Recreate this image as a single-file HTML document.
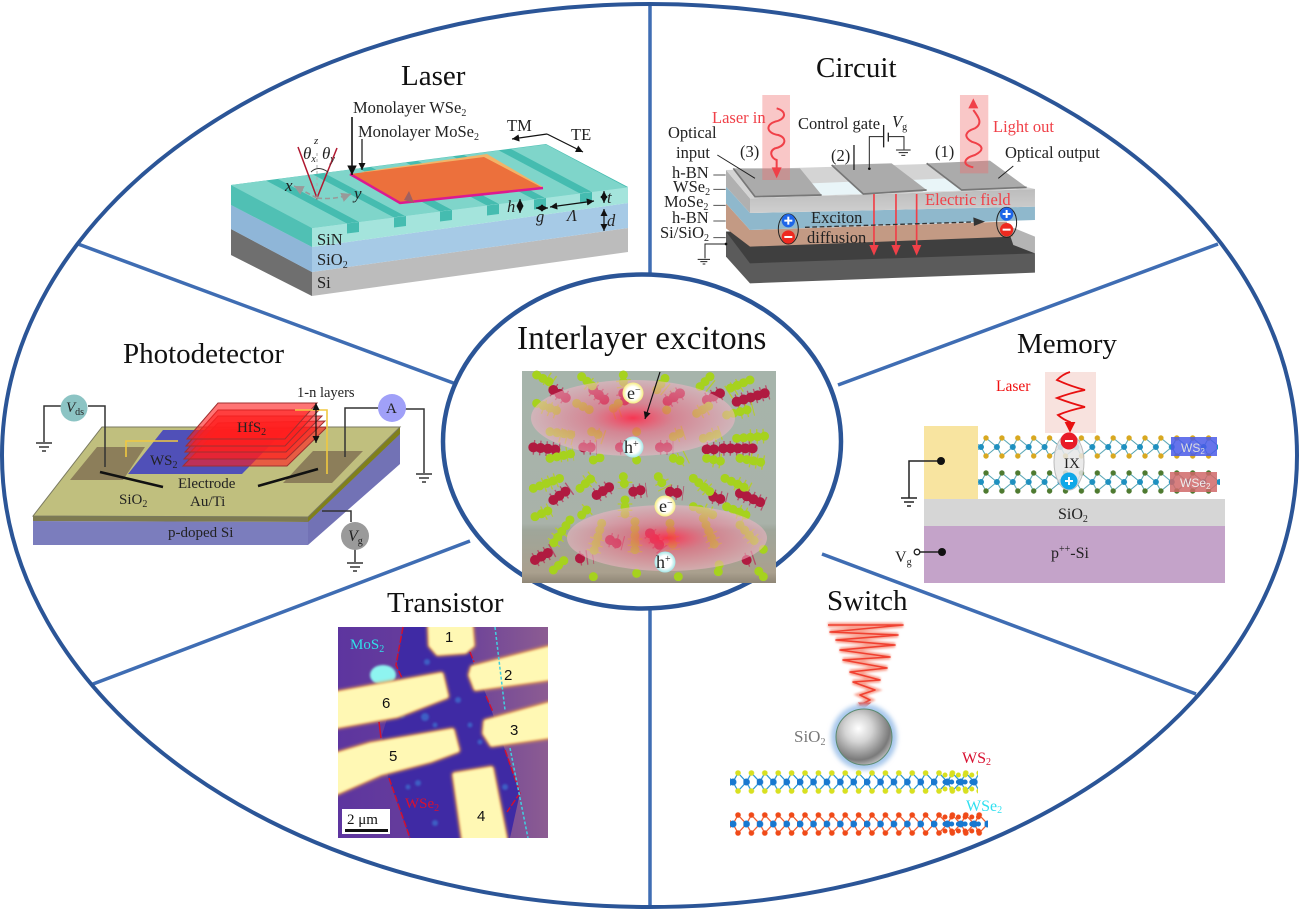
<!DOCTYPE html>
<html><head><meta charset="utf-8"><style>
html,body{margin:0;padding:0;background:#fff}
svg{display:block}
text{font-family:"Liberation Serif",serif;fill:#222}
.t{font-size:29px;fill:#111}
.m{font-size:16.5px}
.s{font-size:15px}
.i{font-style:italic}
.sub{font-size:10px}
.n{font-family:"Liberation Sans",sans-serif;font-size:15px;fill:#111}
.gb{fill:none;stroke:#a6d21e;stroke-width:27;stroke-linecap:round;stroke-dasharray:0 21}
.rb{fill:none;stroke:#b01a40;stroke-width:30;stroke-linecap:round;stroke-dasharray:0 22}
.h{fill:none;stroke:#b83058;stroke-width:44;stroke-dasharray:4 15;stroke-opacity:.75}
.hg{fill:none;stroke:#b4cc30;stroke-width:44;stroke-dasharray:4 15}
</style></head><body>
<svg width="1299" height="911" viewBox="0 0 1299 911" xmlns="http://www.w3.org/2000/svg">
<defs>
<marker id="ak" markerWidth="7" markerHeight="7" refX="6" refY="3" orient="auto-start-reverse"><path d="M0,0L6,3L0,6z" fill="#111"/></marker>
<marker id="ar" markerWidth="6" markerHeight="6" refX="5" refY="3" orient="auto"><path d="M0,0L6,3L0,6z" fill="#e81010"/></marker>
<marker id="ag" markerWidth="7" markerHeight="7" refX="6" refY="3" orient="auto"><path d="M0,0L6,3L0,6z" fill="#999"/></marker>
<filter id="b1" x="-10%" y="-10%" width="120%" height="120%"><feGaussianBlur stdDeviation="1"/></filter>
<filter id="b15" x="-15%" y="-15%" width="130%" height="130%"><feGaussianBlur stdDeviation="1.5"/></filter>
<filter id="b2" x="-20%" y="-20%" width="140%" height="140%"><feGaussianBlur stdDeviation="2.5"/></filter>
<polygon id="rt" points="231,185 266,180.5 347,223.5 312,228" fill="#7fd5ca"/>
<g id="r">
<polygon points="347,223.5 359,222 359,232 347,233.5" fill="#45bcb0"/>
<use href="#rt"/>
</g>
<g id="gnd" stroke="#333" stroke-width="1.5" fill="none"><path d="M-8,0H8M-5,4H5M-2,8H2"/></g>
<radialGradient id="glow1" cx=".5" cy=".5" r=".5"><stop offset="0" stop-color="#ff2848" stop-opacity=".9"/><stop offset=".4" stop-color="#f86080" stop-opacity=".55"/><stop offset="1" stop-color="#f2b6c6" stop-opacity=".55"/></radialGradient>
<radialGradient id="ball" cx=".4" cy=".35" r=".7"><stop offset="0" stop-color="#fff"/><stop offset=".35" stop-color="#d4d4d4"/><stop offset=".8" stop-color="#7a7a7a"/><stop offset="1" stop-color="#c8c8c8"/></radialGradient>
<radialGradient id="wy" cx=".5" cy=".5" r=".55"><stop offset=".55" stop-color="#fff"/><stop offset="1" stop-color="#f4e860"/></radialGradient>
<radialGradient id="wb" cx=".5" cy=".5" r=".55"><stop offset=".55" stop-color="#fff"/><stop offset="1" stop-color="#8ce0e0"/></radialGradient>
<linearGradient id="img" x1="0" y1="0" x2="0" y2="1"><stop offset="0" stop-color="#a6b4ab"/><stop offset=".72" stop-color="#a9b2a9"/><stop offset=".75" stop-color="#9fa69a"/><stop offset=".95" stop-color="#aaa08e"/><stop offset="1" stop-color="#8f8676"/></linearGradient>
<linearGradient id="tbg" x1="0" y1="0" x2="1" y2="0"><stop offset="0" stop-color="#5d359f"/><stop offset=".6" stop-color="#6c4299"/><stop offset="1" stop-color="#8c5c92"/></linearGradient>
<linearGradient id="gf" x1="0" y1="0" x2="0" y2="1"><stop offset="0" stop-color="#bcbcbc"/><stop offset="1" stop-color="#cfcfcf"/></linearGradient>
<pattern id="pw1" patternUnits="userSpaceOnUse" x="978" y="434" width="15.9" height="26">
<path d="M3,13L8,4L18.9,13L8,22L3,13M-7.9,4L3,13L-7.9,22" stroke="#4da0b0" stroke-width="1" fill="none"/>
<circle cx="3" cy="13" r="3" fill="#1e90c0"/><circle cx="8" cy="4" r="2.7" fill="#d8a820"/><circle cx="8" cy="22" r="2.7" fill="#d8a820"/>
</pattern>
<pattern id="pw2" patternUnits="userSpaceOnUse" x="978" y="469" width="15.9" height="26">
<path d="M3,13L8,4L18.9,13L8,22L3,13M-7.9,4L3,13L-7.9,22" stroke="#4da0b0" stroke-width="1" fill="none"/>
<circle cx="3" cy="13" r="3" fill="#1e90c0"/><circle cx="8" cy="4" r="2.7" fill="#4e7a30"/><circle cx="8" cy="22" r="2.7" fill="#4e7a30"/>
</pattern>
<pattern id="ps1" patternUnits="userSpaceOnUse" x="730" y="770" width="13.4" height="24">
<path d="M3,12L8,3L16.4,12L8,21L3,12M-5.4,3L3,12L-5.4,21" stroke="#2090d0" stroke-width="1.2" fill="none"/>
<circle cx="8" cy="3" r="2.8" fill="#d8e020"/><circle cx="8" cy="21" r="2.8" fill="#d8e020"/><circle cx="3" cy="12" r="3.5" fill="#1878d0"/>
</pattern>
<pattern id="ps2" patternUnits="userSpaceOnUse" x="730" y="812" width="13.4" height="24">
<path d="M3,12L8,3L16.4,12L8,21L3,12M-5.4,3L3,12L-5.4,21" stroke="#f05020" stroke-width="1.2" fill="none"/>
<circle cx="8" cy="3" r="2.8" fill="#f04a18"/><circle cx="8" cy="21" r="2.8" fill="#f04a18"/><circle cx="3" cy="12" r="3.5" fill="#1878d0"/>
</pattern>
</defs>

<rect width="1299" height="911" fill="#fff"/>

<!-- Frame -->
<g stroke="#3f6db3" stroke-width="3.5" fill="none">
<path d="M650,3V275M650,608V908"/>
<path d="M78,244L456,384M93,684L470,541M1218,244L838,385M1196,694L822,554"/>
</g>
<ellipse cx="649.5" cy="455.5" rx="647.5" ry="451.5" fill="none" stroke="#2b5597" stroke-width="4"/>
<ellipse cx="642" cy="441.5" rx="199" ry="167" fill="#fff" stroke="#2b5597" stroke-width="4.5"/>

<!-- Titles -->
<text class="t" x="401" y="85">Laser</text>
<text class="t" x="816" y="77">Circuit</text>
<text class="t" x="123" y="363">Photodetector</text>
<text class="t" x="1017" y="353">Memory</text>
<text class="t" x="387" y="612">Transistor</text>
<text class="t" x="827" y="610">Switch</text>
<text x="517" y="349" style="font-size:33.4px;fill:#111">Interlayer excitons</text>

<!-- LASER -->
<polygon points="231,229 312,272 628,228 628,252 312,296 231,255" fill="#bcbcbc"/>
<polygon points="231,229 312,272 312,296 231,255" fill="#6f6f6f"/>
<polygon points="231,205 312,247 628,203 628,228 312,272 231,229" fill="#a6cae6"/>
<polygon points="231,205 312,247 312,272 231,229" fill="#8fb6d8"/>
<polygon points="231,185 312,228 312,247 231,205" fill="#50c0b4"/>
<polygon points="312,228 628,187 628,203 312,247" fill="#a4e4dc"/>
<polygon points="231,185 546,144 628,187 312,228" fill="#45bcb0"/>
<use href="#r"/>
<use href="#r" transform="translate(47,-6)"/>
<use href="#r" transform="translate(93,-12)"/>
<use href="#r" transform="translate(140,-18)"/>
<use href="#r" transform="translate(187,-24)"/>
<use href="#r" transform="translate(233,-30)"/>
<use href="#rt" transform="translate(280,-36)"/>
<polygon points="361,172 487,154 543,187 490,190" fill="#f2b468"/>
<polygon points="350,174 484,157 543,188 400,203" fill="#ec703c"/>
<path d="M350,174L400,203L543,188" fill="none" stroke="#dc1a90" stroke-width="2.5"/>
<polygon points="404,200 409,191 414,203" fill="#a06060"/>
<g stroke="#111" fill="none" stroke-width="1.2">
<path d="M352,117V175" stroke-width="1.6" marker-end="url(#ak)"/>
<path d="M362,139V170" marker-end="url(#ak)"/>
<path d="M547,134L512,139" marker-end="url(#ak)"/>
<path d="M547,134L583,152" marker-end="url(#ak)"/>
<path d="M520,199V213" marker-start="url(#ak)" marker-end="url(#ak)"/>
<path d="M604,191V203" marker-start="url(#ak)" marker-end="url(#ak)"/>
<path d="M604,209V231" marker-start="url(#ak)" marker-end="url(#ak)"/>
<path d="M536,208L548,208" marker-start="url(#ak)" marker-end="url(#ak)"/>
<path d="M550,207L594,201" marker-start="url(#ak)" marker-end="url(#ak)"/>
</g>
<path d="M298,147L317,198L337,148" fill="none" stroke="#b01830" stroke-width="1.5"/>
<path d="M311,172Q318,165 328,172" fill="none" stroke="#333" stroke-width="1"/>
<path d="M317,198L294,186" stroke="#999" stroke-width="1.6" stroke-dasharray="5 3" fill="none" marker-end="url(#ag)"/>
<path d="M317,198Q335,200 351,194" stroke="#999" stroke-width="1.6" stroke-dasharray="5 3" fill="none" marker-end="url(#ag)"/>
<path d="M317,198V152" stroke="#aaa" stroke-width="1" stroke-dasharray="3 3"/>
<text class="m" x="353" y="113">Monolayer WSe<tspan class="sub" dy="3">2</tspan></text>
<text class="m" x="358" y="137">Monolayer MoSe<tspan class="sub" dy="3">2</tspan></text>
<text class="m" x="507" y="131">TM</text><text class="m" x="571" y="140">TE</text>
<text class="m" x="317" y="245">SiN</text>
<text class="m" x="317" y="265">SiO<tspan class="sub" dy="3">2</tspan></text>
<text class="m" x="317" y="288">Si</text>
<g style="font-style:italic">
<text x="285" y="191" style="font-size:17px;font-style:italic">x</text><text x="354" y="199" style="font-size:17px;font-style:italic">y</text>
<text x="303" y="159" style="font-size:17px;font-style:italic">θ<tspan class="sub" dy="3">x</tspan></text>
<text x="322" y="159" style="font-size:17px;font-style:italic">θ<tspan class="sub" dy="3">y</tspan></text>
<text x="314" y="144" style="font-size:11px;font-style:italic">z</text>
<text x="507" y="212" class="m i">h</text><text x="536" y="222" class="m i">g</text><text x="567" y="221" class="m i">Λ</text>
<text x="607" y="203" class="m i">t</text><text x="607" y="226" class="m i">d</text>
</g>

<!-- CIRCUIT -->
<g transform="translate(660,90) scale(.3333)">
<polygon points="198,425 1040,400 1125,490 1125,548 270,580 198,500" fill="#5b5b5b"/>
<polygon points="198,425 1045,420 1125,490 270,520" fill="#3f3f3f"/>
<polygon points="1040,405 1125,440 1125,490 1060,465" fill="#b4b4b4"/>
<polygon points="198,340 270,420 1040,395 1060,440 270,470 198,415" fill="#c39a84"/>
<polygon points="198,290 270,369 1125,350 1125,390 270,420 198,340" fill="#8fb8cc"/>
<polygon points="198,240 270,325 270,369 198,290" fill="#b0b0b0"/>
<polygon points="270,325 1125,297 1125,350 270,369" fill="url(#gf)"/>
<polygon points="198,240 800,222 1125,297 270,325" fill="#d4d4d4"/>
<polygon points="450,280 580,275 615,312 480,316" fill="#e9f5f8"/>
<polygon points="750,270 860,265 905,302 790,306" fill="#e9f5f8"/>
<g>
<polygon points="220,235 420,235 485,315 285,320" fill="#ababab"/>
<polygon points="515,225 695,220 800,300 610,312" fill="#ababab"/>
<polygon points="800,220 990,212 1100,292 905,300" fill="#ababab"/>
<path d="M220,235L285,320L485,315M515,225L610,312L800,300M800,220L905,300L1100,292" fill="none" stroke="#777" stroke-width="5"/>
</g>
<rect x="307" y="15" width="83" height="255" fill="#f06c6c" fill-opacity=".38"/>
<rect x="900" y="15" width="85" height="235" fill="#f06c6c" fill-opacity=".38"/>
<path d="M350,55C385,65 375,90 345,95C315,105 320,130 355,135C385,145 375,170 345,175C325,185 335,205 350,210V240" fill="none" stroke="#f04048" stroke-width="6"/>
<polygon points="335,232 365,232 350,265" fill="#f04048"/>
<path d="M940,232C905,225 910,205 945,195C975,180 970,165 935,155C910,140 915,125 945,115C970,100 955,80 940,60" fill="none" stroke="#f04048" stroke-width="6"/>
<polygon points="925,55 955,55 940,25" fill="#f04048"/>
<g stroke="#f04048" stroke-width="5" fill="none">
<path d="M642,312V470M708,312V470M770,312V470"/>
</g>
<polygon points="628,465 656,465 642,497" fill="#f04048"/>
<polygon points="694,465 722,465 708,497" fill="#f04048"/>
<polygon points="756,465 784,465 770,497" fill="#f04048"/>
<path d="M435,412L940,396" stroke="#333" stroke-width="4" stroke-dasharray="14 8" fill="none"/>
<polygon points="940,382 975,395 942,408" fill="#333"/>
<g fill="none" stroke="#222" stroke-width="3">
<ellipse cx="385" cy="417" rx="30" ry="45"/><ellipse cx="1040" cy="397" rx="30" ry="45"/>
<path d="M628,232V140H670M685,140H732V178"/>
<path d="M671,105V172M685,128V155" stroke-width="4"/>
<path d="M582,165V240" stroke-width="4"/>
<path d="M198,462H135V505"/>
<path d="M172,195L285,265M1015,265L1060,228"/>
<path d="M160,255H197M160,298H197M160,346H197M160,393H197M160,443H197" stroke="#555"/>
<path d="M708,180H752M716,188H744M724,196H736"/>
<path d="M113,508H150M121,515H142M128,522H136"/>
</g>
<circle cx="628" cy="236" r="4" fill="#111"/><circle cx="198" cy="462" r="4" fill="#111"/>
<circle cx="385" cy="392" r="20" fill="#1e66e8"/><rect x="373" y="389" width="24" height="6" fill="#fff"/><rect x="382" y="380" width="6" height="24" fill="#fff"/>
<circle cx="385" cy="441" r="20" fill="#ee2a20"/><rect x="373" y="438" width="24" height="6" fill="#fff"/>
<circle cx="1040" cy="372" r="20" fill="#1e66e8"/><rect x="1028" y="369" width="24" height="6" fill="#fff"/><rect x="1037" y="360" width="6" height="24" fill="#fff"/>
<circle cx="1040" cy="419" r="20" fill="#ee2a20"/><rect x="1028" y="416" width="24" height="6" fill="#fff"/>
</g>
<g>
<text x="712" y="123" class="m" style="fill:#f04048">Laser in</text>
<text x="798" y="129" class="m">Control gate</text>
<text x="892" y="127" class="m i">V<tspan class="sub" dy="3" style="font-style:normal">g</tspan></text>
<text x="993" y="132" class="m" style="fill:#f04048">Light out</text>
<text x="668" y="138" class="m">Optical</text>
<text x="676" y="158" class="m">input</text>
<text x="740" y="157" class="m">(3)</text>
<text x="831" y="161" class="m">(2)</text>
<text x="935" y="157" class="m">(1)</text>
<text x="1005" y="158" class="m">Optical output</text>
<text x="672" y="178" class="m">h-BN</text>
<text x="673" y="192" class="m">WSe<tspan class="sub" dy="3">2</tspan></text>
<text x="664" y="207" class="m">MoSe<tspan class="sub" dy="3">2</tspan></text>
<text x="672" y="223" class="m">h-BN</text>
<text x="660" y="238" class="m">Si/SiO<tspan class="sub" dy="3">2</tspan></text>
<text x="925" y="205" class="m" style="fill:#f04048">Electric field</text>
<text x="811" y="223" class="m">Exciton</text>
<text x="807" y="243" class="m">diffusion</text>
</g>

<!-- PHOTODETECTOR -->
<polygon points="33,521 308,522 308,545 33,545" fill="#7b7dbd"/>
<polygon points="308,517 400,427 400,464 308,545" fill="#7272b5"/>
<polygon points="33,516 308,517 308,522 33,521" fill="#7d7a50"/>
<polygon points="308,517 400,427 400,434 308,522" fill="#80801a"/>
<polygon points="33,516 102,427 400,427 308,517" fill="#c0bf7e" stroke="#7a7a60"/>
<polygon points="70,480 97,447 145,447 123,480" fill="#8c7e5a"/>
<polygon points="283,483 313,451 363,451 332,483" fill="#8c7e5a"/>
<polygon points="128,474 163,430 285,430 242,474" fill="#5050b8"/>
<g fill="#ff1e1e" fill-opacity=".62" stroke="#a03030" stroke-width="1">
<polygon points="183,466 218,430 327,427 287,466"/>
<polygon points="184,459 218,423 325,421 286,459"/>
<polygon points="185,452 218,416 322,416 286,452"/>
<polygon points="186,446 218,410 319,410 285,446"/>
<polygon points="187,439 218,403 317,403 285,439"/>
</g>
<path d="M126,457V441H178M295,410H327V474" fill="none" stroke="#f0c840" stroke-width="1.6"/>
<path d="M316,403V443" stroke="#111" stroke-width="1.2" marker-start="url(#ak)" marker-end="url(#ak)"/>
<path d="M100,472L163,487M258,486L318,469" stroke="#111" stroke-width="2.6"/>
<g fill="none" stroke="#333" stroke-width="1.5">
<path d="M61,406H44V442M88,406H105V467"/>
<path d="M378,408H345V457M405,409H424V473"/>
<path d="M322,511H351V522M355,549V562"/>
</g>
<use href="#gnd" x="44" y="443"/><use href="#gnd" x="424" y="474"/><use href="#gnd" x="355" y="563"/>
<circle cx="74" cy="408" r="13.5" fill="#8cc4c4"/>
<circle cx="392" cy="408" r="14" fill="#a0a0f8"/>
<circle cx="355" cy="536" r="14" fill="#9a9a9a"/>
<text x="66" y="412" class="s i">V<tspan class="sub" dy="3" style="font-style:normal">ds</tspan></text>
<text x="386" y="413" class="s">A</text>
<text x="348" y="541" class="s i" style="font-size:16px">V<tspan class="sub" dy="3" style="font-style:normal">g</tspan></text>
<text x="297" y="397" style="font-size:14.5px">1-n layers</text>
<text x="237" y="432" class="s">HfS<tspan class="sub" dy="3">2</tspan></text>
<text x="150" y="465" class="s">WS<tspan class="sub" dy="3">2</tspan></text>
<text x="178" y="488" class="s">Electrode</text>
<text x="190" y="506" class="s">Au/Ti</text>
<text x="119" y="504" class="s">SiO<tspan class="sub" dy="3">2</tspan></text>
<text x="168" y="537" class="s">p-doped Si</text>

<!-- CENTER IMAGE -->
<rect x="522" y="371" width="254" height="212" fill="url(#img)"/>
<g transform="translate(510,360) scale(.3333)">
<path class="h" d="M130,90L170,115M250,90L290,125M340,100L345,125M510,100L470,125M630,100L580,125M680,125L780,95M70,262L150,270M220,262L260,262M330,262L370,262M450,262L490,262M590,268L630,268M640,265L730,265M130,420L180,385M260,405L300,380M370,395L410,390M480,395L520,400M610,410L650,420M690,400L770,435M75,600L130,570M210,595L250,590M300,540L340,550M420,520L460,570M710,600L740,590"/>
<path class="hg" d="M110,55L140,75M235,70L260,90M340,60L345,100M450,75L480,100M585,65L610,85M690,75L650,100M100,140L140,155M330,150L300,160M590,145L560,160M690,155L730,145M150,225L190,235M260,225L290,235M500,225L530,215M610,225L640,215M720,230L770,228M150,285L190,280M510,300L530,290M610,300L640,305M720,300L770,310M100,375L140,360M230,365L250,350M345,365L345,385M455,365L465,385M575,375L600,395M680,370L720,390M100,460L120,450M230,450L240,440M345,430L345,470M580,450L610,465M685,455L720,470M155,515L130,550M262,535L250,580M375,535L375,590M485,530L490,570M600,520L620,570M715,520L740,550"/>
<path class="rb" d="M130,90L170,115M250,90L290,125M340,100L345,125M510,100L470,125M630,100L580,125M680,125L780,95M70,262L150,270M220,262L250,262M330,262L360,262M450,262L480,262M590,268L620,268M640,265L730,265M130,420L180,385M260,405L300,380M370,395L395,390M480,395L510,400M610,410L640,420M690,400L770,435M75,600L130,570M210,595L230,590M300,540L320,550M420,520L460,570M710,600L720,595"/>
<path class="gb" d="M80,45L130,72M215,50L250,80M340,45L340,70M465,55L440,90M600,50L570,80M720,60L660,85M80,130L150,155M200,130L250,155M325,130L300,155M470,150L490,155M560,160L610,130M650,165L730,145M120,215L190,225M245,215L280,230M380,215L385,235M490,230L520,215M580,235L630,220M680,235L770,228M120,295L190,280M250,300L280,290M380,300L385,290M490,295L520,305M590,295L640,305M690,295L770,310M70,385L150,355M210,385L250,350M340,350L345,385M445,350L465,385M550,355L600,395M645,355L720,390M75,470L120,450M215,465L240,440M345,420L345,470M550,440L610,465M650,440L720,470M180,480L130,550M275,490L250,580M375,485L375,590M480,490L490,570M580,475L620,570M690,495L740,550M130,630L175,590M250,650L252,630M380,640L382,620M505,650L505,630M625,635L628,610M760,650L735,620M760,568L762,566"/>
</g>
<ellipse cx="633" cy="418" rx="102" ry="38" fill="url(#glow1)"/>
<ellipse cx="667" cy="538" rx="100" ry="33" fill="url(#glow1)"/>
<path d="M660,372L645,419" stroke="#111" stroke-width="1.2" marker-end="url(#ak)"/>
<circle cx="633" cy="393" r="10.5" fill="url(#wy)"/><circle cx="633" cy="447" r="10.5" fill="url(#wb)"/>
<circle cx="665" cy="506" r="10.5" fill="url(#wy)"/><circle cx="665" cy="562" r="10.5" fill="url(#wb)"/>
<text x="627" y="399" style="font-size:18px">e<tspan class="sub" dy="-6">−</tspan></text>
<text x="624" y="453" style="font-size:18px">h<tspan class="sub" dy="-6">+</tspan></text>
<text x="659" y="512" style="font-size:18px">e<tspan class="sub" dy="-6">−</tspan></text>
<text x="656" y="568" style="font-size:18px">h<tspan class="sub" dy="-6">+</tspan></text>

<!-- MEMORY -->
<rect x="1045" y="372" width="51" height="61" fill="#f8e2de"/>
<rect x="924" y="426" width="54" height="73" fill="#f8e4a0"/>
<rect x="924" y="499" width="301" height="27" fill="#d6d6d6"/>
<rect x="924" y="526" width="301" height="57" fill="#c4a3c9"/>
<rect x="978" y="434" width="240" height="26" fill="url(#pw1)"/>
<rect x="978" y="469" width="242" height="26" fill="url(#pw2)"/>
<rect x="1171" y="437" width="46" height="19" fill="#4a5ae8" fill-opacity=".85"/>
<rect x="1170" y="472" width="47" height="20" fill="#d06868" fill-opacity=".85"/>
<ellipse cx="1069" cy="462" rx="15" ry="28" fill="#e6e6e6" fill-opacity=".85" stroke="#bbb"/>
<path d="M1070,372Q1063,374 1057,380Q1070,386 1085,390Q1070,393 1057,398Q1070,403 1085,407Q1070,410 1058,415Q1064,420 1070,422V431" fill="none" stroke="#e81010" stroke-width="1.8" marker-end="url(#ar)"/>
<circle cx="1069" cy="441" r="8.5" fill="#e81c28"/><rect x="1065" y="440" width="8" height="2" fill="#fff"/>
<circle cx="1069" cy="481" r="8.5" fill="#10a8e8"/><rect x="1065" y="480" width="8" height="2" fill="#fff"/><rect x="1068" y="477" width="2" height="8" fill="#fff"/>
<path d="M941,461H909V498" fill="none" stroke="#222" stroke-width="1.5"/>
<path d="M901,498H917M904,502H914M907,506H911" stroke="#222" stroke-width="1.5"/>
<path d="M920,552H942" stroke="#222" stroke-width="1.5"/>
<circle cx="941" cy="461" r="4" fill="#111"/><circle cx="942" cy="552" r="4" fill="#111"/>
<circle cx="917" cy="552" r="2.8" fill="#fff" stroke="#222" stroke-width="1.3"/>
<text x="996" y="391" style="font-size:15.5px;fill:#f01010">Laser</text>
<text x="1064" y="468" style="font-size:15px">IX</text>
<text x="1058" y="519" style="font-size:16px">SiO<tspan class="sub" dy="3">2</tspan></text>
<text x="1051" y="558" style="font-size:16px">p<tspan class="sub" dy="-6">++</tspan><tspan dy="6">-Si</tspan></text>
<text x="895" y="562" style="font-size:16px">V<tspan class="sub" dy="3">g</tspan></text>
<text x="1181" y="452" style="font-size:12px;fill:#ddd;font-family:'Liberation Sans',sans-serif">WS<tspan style="font-size:8px;fill:#ddd;font-family:'Liberation Sans',sans-serif" dy="2">2</tspan></text>
<text x="1180" y="487" style="font-size:12px;fill:#eee;font-family:'Liberation Sans',sans-serif">WSe<tspan style="font-size:8px;fill:#eee;font-family:'Liberation Sans',sans-serif" dy="2">2</tspan></text>

<!-- TRANSISTOR -->
<rect x="338" y="627" width="210" height="211" fill="url(#tbg)"/>
<polygon points="403,627 397,663 400,677 382,735 388,777 410,838 510,838 520,793 505,750 487,697 473,662 470,652 463,627" fill="#3f2aa4"/>
<g fill="#3c8ce0" opacity=".55" filter="url(#b1)">
<circle cx="427" cy="662" r="3"/><circle cx="458" cy="700" r="3"/><circle cx="425" cy="717" r="4"/><circle cx="402" cy="715" r="3"/><circle cx="470" cy="725" r="2.5"/><circle cx="435" cy="725" r="2.5"/><circle cx="418" cy="783" r="3"/><circle cx="435" cy="823" r="3"/><circle cx="408" cy="787" r="2.5"/><circle cx="505" cy="787" r="3"/><circle cx="480" cy="742" r="2.5"/>
</g>
<ellipse cx="383" cy="675" rx="13" ry="10" fill="#8ef4f0" filter="url(#b1)"/>
<svg x="338" y="627" width="210" height="211" viewBox="338 627 210 211">
<g filter="url(#b15)" fill="#e89a50" stroke="#e89a50" stroke-width="7" stroke-linejoin="round">
<polygon points="430,620 470,620 472,645 465,651 438,653 431,645"/>
<polygon points="555,647 473,668 471,675 476,688 555,677"/>
<polygon points="555,703 486,722 485,733 492,744 555,735"/>
<polygon points="455,775 491,769 506,845 465,845"/>
<polygon points="330,757 370,745 452,731 457,750 430,760 380,773 330,795"/>
<polygon points="330,695 441,675 446,696 397,715 330,727"/>
</g>
<g filter="url(#b1)" fill="#fff8b4" stroke="#fff8b4" stroke-width="4" stroke-linejoin="round">
<polygon points="430,620 470,620 472,645 465,651 438,653 431,645"/>
<polygon points="555,647 473,668 471,675 476,688 555,677"/>
<polygon points="555,703 486,722 485,733 492,744 555,735"/>
<polygon points="455,775 491,769 506,845 465,845"/>
<polygon points="330,757 370,745 452,731 457,750 430,760 380,773 330,795"/>
<polygon points="330,695 441,675 446,696 397,715 330,727"/>
</g>
</svg>
<g stroke="#d01030" stroke-width="1.5" fill="none">
<path d="M403,627L396,665L402,678" stroke-dasharray="7 2"/>
<path d="M470,652L474,662M486,696L493,712M505,750L520,793L507,812" stroke-dasharray="7 2"/>
<path d="M379,722L381,738"/>
<path d="M389,778L410,838" stroke-dasharray="7 2"/>
</g>
<path d="M495,627L505,710M510,748L528,838" stroke="#40d0e0" stroke-width="1.5" stroke-dasharray="3 2" fill="none"/>
<rect x="342" y="809" width="48" height="25" fill="#fff"/>
<rect x="345" y="829" width="43" height="3" fill="#111"/>
<text x="347" y="824" style="font-size:15px;fill:#111">2 μm</text>
<text x="350" y="649" style="font-size:15px;fill:#30e0e8">MoS<tspan class="sub" dy="3" style="fill:#30e0e8">2</tspan></text>
<text x="405" y="808" style="font-size:15px;fill:#d81030">WSe<tspan class="sub" dy="3" style="fill:#d81030">2</tspan></text>
<text class="n" x="445" y="642">1</text>
<text class="n" x="504" y="680">2</text>
<text class="n" x="510" y="735">3</text>
<text class="n" x="477" y="821">4</text>
<text class="n" x="389" y="761">5</text>
<text class="n" x="382" y="708">6</text>

<!-- SWITCH -->
<path d="M828,625L903,625L830,632L898,635L836,640L895,645L840,650L890,657L843,660L887,668L850,672L880,680L853,682L875,690L860,695L870,700L860,705L864,712" fill="none" stroke="#f8a090" stroke-width="5" filter="url(#b1)"/>
<path d="M828,625L903,625L830,632L898,635L836,640L895,645L840,650L890,657L843,660L887,668L850,672L880,680L853,682L875,690L860,695L870,700L860,705L864,706" fill="none" stroke="#f04030" stroke-width="1.6" stroke-linejoin="round"/>
<polygon points="859,703 870,703 864,708" fill="#f04030" stroke="#f04030" stroke-width="1"/>
<circle cx="864" cy="737" r="33" fill="#a8c8ec" filter="url(#b2)"/>
<circle cx="864" cy="737" r="28" fill="url(#ball)" stroke="#5a8a70" stroke-width="1"/>
<rect x="730" y="770" width="248" height="24" fill="url(#ps1)"/>
<rect x="730" y="812" width="258" height="24" fill="url(#ps2)"/>
<g fill="none" stroke-linecap="round">
<path d="M945,782H975" stroke="#1878d0" stroke-width="5" stroke-dasharray="0 6.7"/>
<path d="M945,775H975M945,789H975" stroke="#d8e020" stroke-width="5" stroke-dasharray="0 6.7"/>
<path d="M945,824H985" stroke="#1878d0" stroke-width="5" stroke-dasharray="0 6.7"/>
<path d="M945,817H985M945,831H985" stroke="#f04a18" stroke-width="5" stroke-dasharray="0 6.7"/>
</g>
<text x="794" y="742" style="font-size:17px;fill:#777">SiO<tspan class="sub" dy="3" style="fill:#777">2</tspan></text>
<text x="962" y="763" style="font-size:16px;fill:#d81030">WS<tspan class="sub" dy="2" style="fill:#d81030">2</tspan></text>
<text x="966" y="811" style="font-size:16px;fill:#30e0f0">WSe<tspan class="sub" dy="2" style="fill:#30e0f0">2</tspan></text>
</svg>
</body></html>
